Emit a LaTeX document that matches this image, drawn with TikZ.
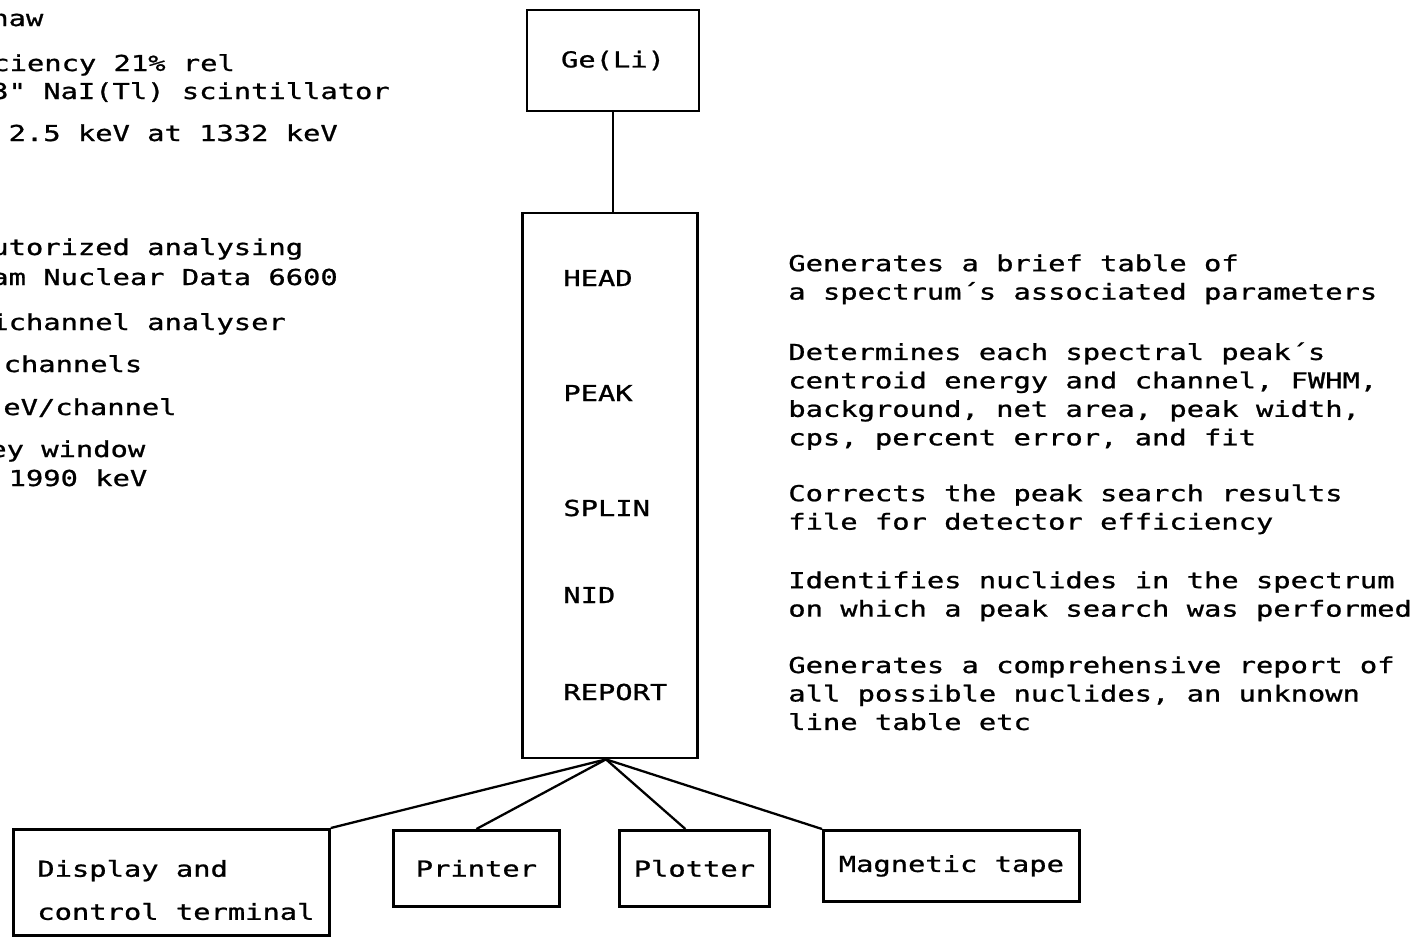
\documentclass[tikz,border=0pt]{standalone}
\usepackage{fontspec}
\setmonofont[FakeStretch=1.31, FakeBold=1]{DejaVu Sans Mono}
\usetikzlibrary{positioning}

\tikzset{
  box/.style={draw, line width=1.6pt, inner sep=0pt,
    font=\ttfamily\fontsize{12.5}{16.2}\selectfont},
  frag/.style={inner sep=0pt, anchor=base west,
    font=\ttfamily\fontsize{12.5}{16.2}\selectfont},
  notes/.style={inner sep=0pt, anchor=north west, align=left,
    font=\ttfamily\fontsize{12.5}{16.2}\selectfont},
  link/.style={line width=1.3pt},
}

\begin{document}
\begin{tikzpicture}[x=0.02cm, y=-0.02cm]
  \useasboundingbox (0,0) rectangle (1416,937);

  % detector notes, cut at the left edge
  \node[frag] (d1) at (-9,26) {haw};
  \node[frag] (d2) at (-8,71) {ciency 21\% rel};
  \node[frag] (d3) at (-9,99) {3" NaI(Tl) scintillator};
  \node[frag] (d4) at (-9,141) {\ 2.5 keV at 1332 keV};
  \node[frag] (a1) at (-9,255) {utorized analysing};
  \node[frag] (a2) at (-9,285) {am Nuclear Data 6600};
  \node[frag] (a3) at (-9,330) {ichannel analyser};
  \node[frag] (a4) at (-14,372) {\ channels};
  \node[frag] (a5) at (3,415) {eV/channel};
  \node[frag] (a6) at (-11,457) {ey window};
  \node[frag] (a7) at (-9,486) {\ 1990 keV};

  % detector and programs
  \node[box, minimum width=3.44cm, minimum height=2.02cm] (ge) at (613,60.5) {Ge(Li)};
  \node[box, minimum width=3.5cm, minimum height=10.9cm] (prog) at (610,485.5) {};
  \draw[line width=0.8pt] (ge.south) -- (ge.south |- prog.north);

  \node[frag, anchor=west] (head) at (563,278) {HEAD};
  \node[frag, anchor=west] (peak) at (563,393) {PEAK};
  \node[frag, anchor=west] (splin) at (563,508) {SPLIN};
  \node[frag, anchor=west] (nid) at (563,595) {NID};
  \node[frag, anchor=west] (report) at (563,692) {REPORT};

  % what each program does
  \node[notes] (headtxt) at (788,254) {Generates a brief table of\\a spectrum´s associated parameters};
  \node[notes] (peaktxt) at (788,342) {Determines each spectral peak´s\\centroid energy and channel, FWHM,\\background, net area, peak width,\\cps, percent error, and fit};
  \node[notes] (splintxt) at (788,484) {Corrects the peak search results\\file for detector efficiency};
  \node[notes] (nidtxt) at (788,571) {Identifies nuclides in the spectrum\\on which a peak search was performed};
  \node[notes] (reporttxt) at (788,656) {Generates a comprehensive report of\\all possible nuclides, an unknown\\line table etc};

  % output devices
  \node[box, anchor=north west, minimum width=6.32cm, minimum height=2.12cm] (term) at (12,828) {};
  \node[notes, anchor=west, font=\ttfamily\fontsize{12.5}{24.5}\selectfont] (termtxt) at (37,890)
    {Display and\\control terminal};
  \node[box, anchor=north west, minimum width=3.32cm, minimum height=1.52cm] (printer) at (392,829) {Printer};
  \node[box, anchor=north west, minimum width=3.0cm, minimum height=1.52cm] (plotter) at (618,829) {Plotter};
  \node[box, anchor=north west, minimum width=5.12cm, minimum height=1.42cm] (tape) at (822,829) {Magnetic tape};

  \coordinate (fan) at ([xshift=-0.08cm]prog.south);
  \draw[link] (fan) -- (term.north east);
  \draw[link] (fan) -- (printer.north);
  \draw[link] (fan) -- ([xshift=-0.18cm]plotter.north);
  \draw[link] (fan) -- (tape.north west);
\end{tikzpicture}
\end{document}
